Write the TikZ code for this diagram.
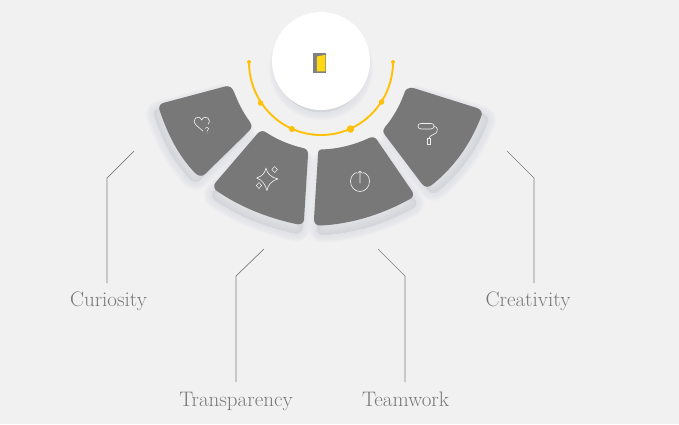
\documentclass[tikz,border=0pt]{standalone}
\usetikzlibrary{calc}
\definecolor{bgc}{HTML}{F1F1F1}
\definecolor{sect}{HTML}{787878}
\definecolor{shad}{HTML}{A8AADC}
\definecolor{gold}{HTML}{FFC107}
\definecolor{lab}{HTML}{787878}
\definecolor{lin}{HTML}{7E7E7E}
\definecolor{doorg}{HTML}{808080}
\definecolor{doory}{HTML}{FFD814}
\definecolor{iconc}{HTML}{F0F0F0}
\tikzset{
  sector/.style={fill=sect,draw=none},
  icon/.style={draw=iconc,line width=0.65pt,fill=none,line cap=round,line join=round},
  leader/.style={draw=lin,line width=0.7pt},
  goldline/.style={draw=gold,line width=1.9pt},
  golddot/.style={circle,fill=gold,inner sep=0pt,minimum size=#1},
  tag/.style={text=lab,font=\fontsize{21}{21}\selectfont,inner sep=0pt,anchor=base},
}
\newcommand{\softshadow}[3]{%
  \foreach \w in {0.5,2,...,17}{
    \path[shift={(#1,#2)},fill=shad,draw=shad,line width=\w pt,line join=round,opacity=0.016] #3;
  }%
}
\def\secA{(163,103) .. controls (160,104) and (158.5,107) .. (159.5,110) .. controls (168,135) and (178,155) .. (195,173) .. controls (198,176) and (202,177) .. (205,174) -- (249,131) .. controls (252,128) and (252,125) .. (250,122) .. controls (242,111) and (238,102) .. (234,92) .. controls (232,87) and (229,85.5) .. (225,86.5) -- cycle}
\def\secB{(258,133) .. controls (261,130.5) and (264,130.5) .. (267,133) .. controls (278,140) and (290,145) .. (303,148) .. controls (307,149) and (308,151) .. (308,155) -- (304,220) .. controls (303.5,223.5) and (300,225) .. (296,224) .. controls (268,218) and (240,207) .. (217,191) .. controls (214,189) and (213,185) .. (216,182) -- cycle}
\def\secC{(321,149.5) .. controls (338,149) and (354,145) .. (369,138) .. controls (372,136.5) and (375,137) .. (377,140) -- (412,191) .. controls (414,194) and (413,197.5) .. (410,199) .. controls (383,214) and (352,224) .. (321,225.5) .. controls (316,226) and (314,223) .. (314,219) -- (318,155) .. controls (318,151) and (319,149.5) .. (321,149.5) -- cycle}
\def\secD{(407,89) .. controls (409,87.5) and (411,87.5) .. (415,88.5) -- (477,108) .. controls (481,109.5) and (483,113) .. (481,117) .. controls (470,145) and (454,167) .. (433,184) .. controls (429,188) and (425,187.5) .. (422,184) -- (385,135) .. controls (382.5,132) and (383,129) .. (385,127) .. controls (393,118) and (400,105) .. (404,94) .. controls (404.5,92) and (405.5,90) .. (407,89) -- cycle}
\begin{document}
\begin{tikzpicture}[x=1pt,y=-1pt]
\useasboundingbox (0,0) rectangle (679,424);
\fill[bgc] (0,0) rectangle (679,424);
% shadows
\softshadow{-5}{6}{\secA}
\softshadow{-2}{9}{\secB}
\softshadow{3}{9}{\secC}
\softshadow{6}{6}{\secD}
\softshadow{0}{7}{(321,61) circle[radius=44]}
% sectors
\fill[sector] \secA;
\fill[sector] \secB;
\fill[sector] \secC;
\fill[sector] \secD;
% hub
\node[circle,fill=white,inner sep=0pt,minimum size=98pt] (hub) at (321,61) {};
\fill[doorg] (313.3,53.3) rectangle (326,72.5);
\fill[doory] (316.8,56.5) -- (325.3,54.8) -- (325.3,71.3) -- (316.8,71.3) -- cycle;
% gold arc
\coordinate (arcL) at (249,62);
\coordinate (arcR) at (393,62);
\draw[goldline] (arcL) .. controls (249,102) and (281,135) .. (321,135) .. controls (361,135) and (393,102) .. (arcR);
\node[golddot=4pt] (e1) at (arcL) {};
\node[golddot=4pt] (e2) at (arcR) {};
\node[golddot=5.5pt] (d1) at (260.5,103) {};
\node[golddot=6pt] (d2) at (292,129) {};
\node[golddot=7.5pt] (d3) at (350.5,129) {};
\node[golddot=5.5pt] (d4) at (381.5,102) {};
% icons
\draw[icon] (203,131) -- (196.5,125.5) .. controls (193.5,122.5) and (193.5,119.5) .. (195.5,118) .. controls (197.5,116.5) and (200.5,117) .. (201.7,120) .. controls (203,117) and (206,116.5) .. (208,118) .. controls (210,119.5) and (209.5,122.5) .. (208.5,124);
\draw[icon,line width=0.5pt] (205.2,128.3) .. controls (205.7,126.8) and (208.6,126.8) .. (208.6,128.6) .. controls (208.6,130) and (207,130) .. (207,131.4);
\fill[iconc] (207,133) circle[radius=0.35];
\draw[icon] (266,168) .. controls (267,173.5) and (271,177.5) .. (278,179) .. controls (271,181) and (268,185) .. (267,190.5) .. controls (265.5,185) and (262.5,180) .. (256.7,178) .. controls (262.5,176) and (265,173) .. (266,168) -- cycle;
\draw[icon,line width=0.5pt] (274.7,166.5) -- (277.5,169.5) -- (274.7,172.5) -- (271.8,169.5) -- cycle;
\draw[icon,line width=0.5pt] (259,182.5) -- (261.7,185.5) -- (259,188.5) -- (256.3,185.5) -- cycle;
\draw[icon] (356.5,172.5) .. controls (352.5,174) and (350.5,177.5) .. (350.5,181.5) .. controls (350.5,187) and (355,191.5) .. (360,191.5) .. controls (365,191.5) and (369.5,187) .. (369.5,181.5) .. controls (369.5,177.5) and (367.5,174) .. (363.5,172.5);
\draw[icon] (360,183) -- (360,171) (357.5,173.5) -- (360,171) -- (362.5,173.5);
\draw[icon] (421,123.5) -- (431,123.5) .. controls (433,123.5) and (434,124.5) .. (434,126) .. controls (434,127.5) and (433,129) .. (431,129) -- (421,129) .. controls (419,129) and (418,127.5) .. (418,126) .. controls (418,124.5) and (419,123.5) .. (421,123.5) -- cycle;
\draw[icon] (434,126.5) .. controls (438,126.5) and (438,131) .. (436,133) .. controls (433,135) and (429.5,135.5) .. (429,138.5);
\draw[icon] (427.3,138.5) rectangle (430.7,144.5);
% labels
\node[tag] (curiosity) at (108.5,306) {Curiosity};
\node[tag] (transparency) at (236,406) {Transparency};
\node[tag] (teamwork) at (405.5,406) {Teamwork};
\node[tag] (creativity) at (528,306) {Creativity};
% leaders
\coordinate (a0) at (134,151); \coordinate (a1) at (107,178); \coordinate (a2) at (107,283);
\coordinate (b0) at (264,249); \coordinate (b1) at (236,276); \coordinate (b2) at (236,382);
\coordinate (c0) at (378,249); \coordinate (c1) at (405,276); \coordinate (c2) at (405,382);
\coordinate (f0) at (507,151); \coordinate (f1) at (534,178); \coordinate (f2) at (534,283);
\draw[leader] (a0) -- (a1) -- (a2);
\draw[leader] (b0) -- (b1) -- (b2);
\draw[leader] (c0) -- (c1) -- (c2);
\draw[leader] (f0) -- (f1) -- (f2);
\end{tikzpicture}
\end{document}
